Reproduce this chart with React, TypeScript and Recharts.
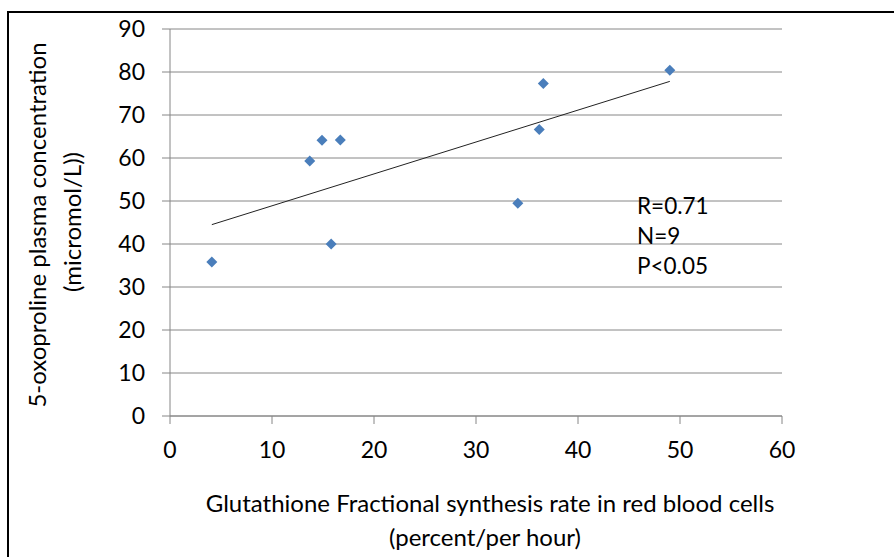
import { ScatterChart, Scatter, XAxis, YAxis, CartesianGrid, ReferenceLine } from "recharts";

// Glutathione FSR in red blood cells (percent/per hour) vs 5-oxoproline (micromol/L)
const fsr = [4.1, 13.7, 14.9, 15.8, 16.7, 34.1, 36.2, 36.6, 49.0];
const oxoproline = [35.8, 59.3, 64.1, 40.0, 64.2, 49.5, 66.6, 77.3, 80.4];
const xTicks = [0, 10, 20, 30, 40, 50, 60];
const yTicks = [0, 10, 20, 30, 40, 50, 60, 70, 80, 90];
const stats = ["R=0.71", "N=9", "P<0.05"];

const points = fsr.map((x, i) => ({ x, y: oxoproline[i] }));

// least squares trendline, drawn between the min and max x
const mx = fsr.reduce((a, b) => a + b, 0) / fsr.length;
const my = oxoproline.reduce((a, b) => a + b, 0) / oxoproline.length;
const sxy = fsr.reduce((s, x, i) => s + (x - mx) * (oxoproline[i] - my), 0);
const sxx = fsr.reduce((s, x) => s + (x - mx) ** 2, 0);
const slope = sxy / sxx;
const x0 = Math.min(...fsr);
const x1 = Math.max(...fsr);
const trend = [
  { x: x0, y: my + slope * (x0 - mx) },
  { x: x1, y: my + slope * (x1 - mx) },
];

const FONT = "Lato, 'Open Sans', sans-serif";
const GRAY = "#868686";

const Diamond = (props: any) => {
  const { cx, cy } = props;
  const r = 5.5;
  return (
    <polygon
      points={`${cx},${cy - r} ${cx + r},${cy} ${cx},${cy + r} ${cx - r},${cy}`}
      fill="#4A7EBB"
    />
  );
};

const title = { position: "absolute" as const, whiteSpace: "nowrap" as const, fontSize: 24, color: "#000", lineHeight: "34px" };

export default function App() {
  const tick = { fill: "#000", fontSize: 23, fontFamily: FONT };
  return (
    <div style={{ position: "absolute", left: 0, top: 0, width: 894, height: 557, background: "#fff", overflow: "hidden", fontFamily: FONT }}>
      <div style={{ position: "absolute", left: 7, top: 11, width: 900, height: 560, borderTop: "2px solid #000", borderLeft: "2px solid #000" }} />
      <ScatterChart width={894} height={557} margin={{ top: 29, right: 112, bottom: 101, left: 100 }}>
        <CartesianGrid horizontal vertical={false} stroke={GRAY} />
        <XAxis
          type="number"
          dataKey="x"
          domain={[0, 60]}
          ticks={xTicks}
          height={40}
          stroke={GRAY}
          tickSize={8}
          tickMargin={18}
          tick={tick}
          interval={0}
        />
        <YAxis
          type="number"
          dataKey="y"
          domain={[0, 90]}
          ticks={yTicks}
          width={70}
          stroke={GRAY}
          tickSize={8}
          tickMargin={17}
          tick={tick}
          interval={0}
        />
        <ReferenceLine segment={trend} stroke="#222" strokeWidth={1} ifOverflow="visible" />
        <Scatter data={points} shape={<Diamond />} isAnimationActive={false} />
      </ScatterChart>

      {stats.map((s, i) => (
        <div key={s} style={{ position: "absolute", left: 637, top: 191 + i * 30, fontSize: 22.5, lineHeight: "30px", color: "#000" }}>
          {s}
        </div>
      ))}

      <div style={{ ...title, left: 490, top: 503, transform: "translate(-50%, -50%)" }}>
        Glutathione Fractional synthesis rate in red blood cells
      </div>
      <div style={{ ...title, left: 485, top: 537, transform: "translate(-50%, -50%)" }}>
        (percent/per hour)
      </div>

      <div style={{ ...title, left: 37, top: 225, transform: "translate(-50%, -50%) rotate(-90deg)" }}>
        5-oxoproline plasma concentration
      </div>
      <div style={{ ...title, left: 72, top: 222, transform: "translate(-50%, -50%) rotate(-90deg)" }}>
        (micromol/L))
      </div>
    </div>
  );
}
